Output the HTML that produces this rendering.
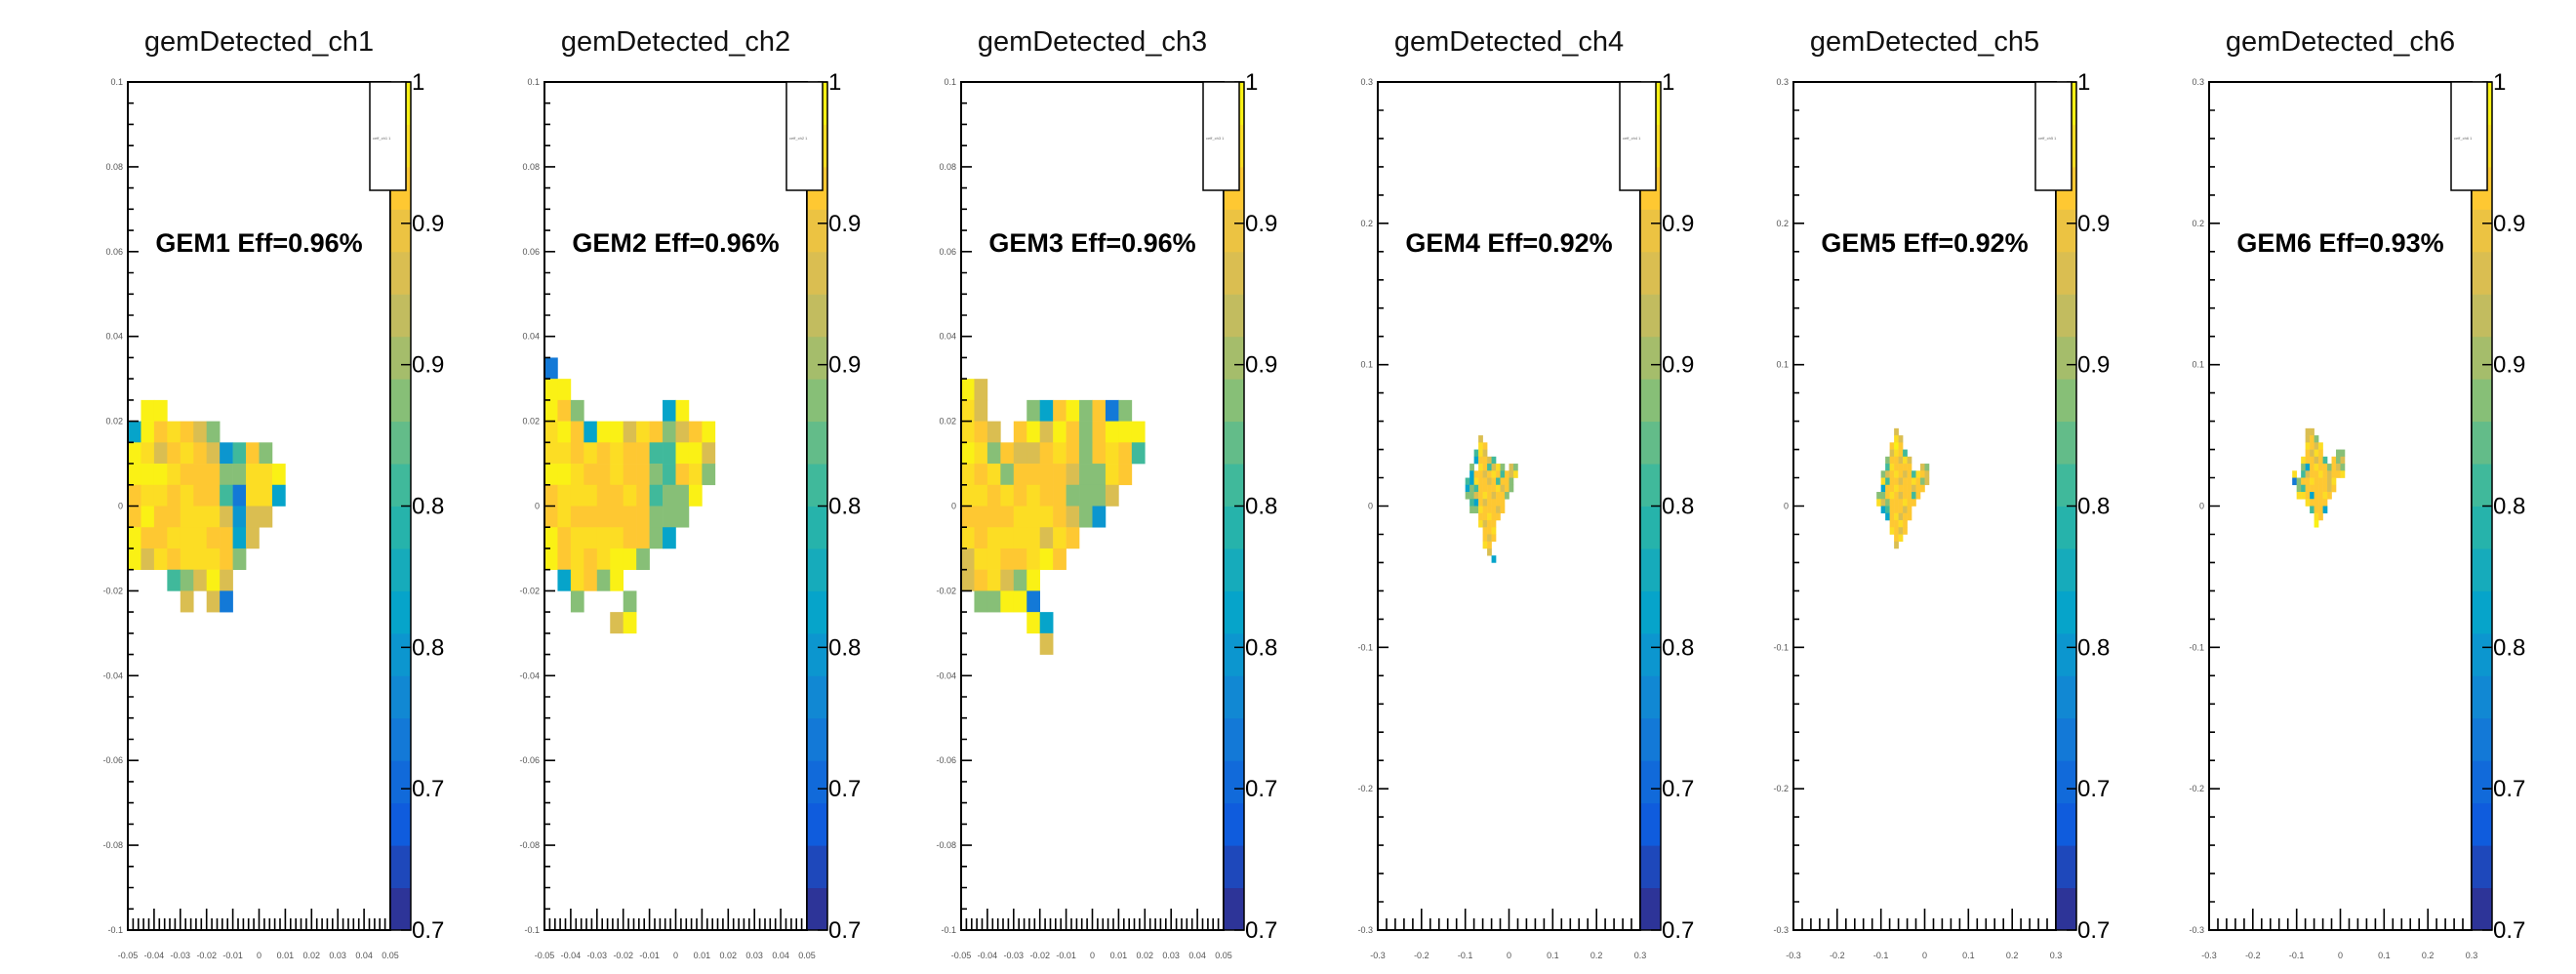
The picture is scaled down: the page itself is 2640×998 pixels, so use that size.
<!DOCTYPE html>
<html><head><meta charset="utf-8">
<style>
html,body{margin:0;padding:0;background:#fff;}
svg{display:block;font-family:"Liberation Sans",sans-serif;}
</style></head>
<body>
<svg id="chart" width="2640" height="998" viewBox="0 0 2640 998" xmlns="http://www.w3.org/2000/svg"></svg>
<script>
// ---- data ----
const panelTitles = ["gemDetected_ch1","gemDetected_ch2","gemDetected_ch3","gemDetected_ch4","gemDetected_ch5","gemDetected_ch6"];
const effLabels = ["GEM1 Eff=0.96%","GEM2 Eff=0.96%","GEM3 Eff=0.96%","GEM4 Eff=0.92%","GEM5 Eff=0.92%","GEM6 Eff=0.93%"];
const axisRange = [0.1,0.1,0.1,0.3,0.3,0.3];           // half-width of x/y axis range
const binX = [0.005,0.005,0.005,0.01,0.01,0.01];
const binY = [0.005,0.005,0.005,0.005,0.005,0.005];
const gridX0 = [-0.05,-0.05,-0.05,-0.11,-0.12,-0.12]; // x of first column
const gridY0 = [0.025,0.035,0.03,0.05,0.055,0.055];   // y of top edge of first row
const xRangeHalf = [0.05,0.05,0.05,0.3,0.3,0.3];
const codeValues = {Y:1.0,y:0.98,o:0.96,t:0.925,g:0.89,G:0.85,c:0.81,C:0.79,b:0.77,B:0.73};
const ch1Rows = [".YY","cYoyotg","YytoyotCGog","YYYyoooggyyY","oyyoyooGbyyc","oYooyyytCtt","Yooyyyooct","Ytyoyyyog","...GgtYt","....t.tb"];
const ch2Rows = ["b","YY","Yog......cY","yYocYYtyogtoY","yyoyoyooGGYYt","YYyooyoogGoyg","oyyyooyoGggY","oyooooooggg","Yoyyyyoogc","YoyoyYYg",".cyogY","..g...g",".....tY"];
const ch3Rows = ["Yt","yt...gcoYgobg","yot.oYtYogoYYY","YygottoyogoyoG","yoygooootggyo","yyoyoyoogggt","ooooyyyotgC","yoyyyytyo","tyyooyYo","toytgY",".ggYYb",".....Yc","......t"];
const ch4Rows = ["....t.........","....yo........","...Gyt........","...cootG......","..g.yoGtyg.tg.","..cootoyoGoty.",".GcyootoGoog..",".cgGooooytog..",".ggtoyotoog...","..Gcotoooo....","..ggyoooto....","....ooyoo.....","....ytoo......",".....ooy......",".....oto......",".....yo.......","......t.......",".......c......"];
const ch5Rows = [".....t........",".....yt.......","....oYo.......","....tyoG......","...gootyt.....","...Gyoooo..tg.","..gtoyotoGyot.","..yGootooyogt.","..cooyoootoo..",".ggoyotooGo...",".ytgoooyoo....","..cGoooto.....","...coytoo.....","....ooyo......","....yoto......",".....oy.......",".....t........"];
const ch6Rows = ["....tt........","....tog.......","....yoty......","....otyo...gg.","...yootoG.ogt.","...gcoyoogotg.",".y.Gtooyotooy.",".bgooyoooty...","..gGoooooto...","..yyocooyo....","....yoooo.....",".....Gooc.....","......yo......","......Y......."];
const allRows = [ch1Rows,ch2Rows,ch3Rows,ch4Rows,ch5Rows,ch6Rows];
const yTickLabelsSmall = ["0.1","0.08","0.06","0.04","0.02","0","-0.02","-0.04","-0.06","-0.08","-0.1"];
const yTickValuesSmall = [0.1,0.08,0.06,0.04,0.02,0,-0.02,-0.04,-0.06,-0.08,-0.1];
const xTickLabelsSmall = ["-0.05","-0.04","-0.03","-0.02","-0.01","0","0.01","0.02","0.03","0.04","0.05"];
const xTickValuesSmall = [-0.05,-0.04,-0.03,-0.02,-0.01,0,0.01,0.02,0.03,0.04,0.05];
const tickLabelsLarge = ["-0.3","-0.2","-0.1","0","0.1","0.2","0.3"];
const tickValuesLarge = [-0.3,-0.2,-0.1,0,0.1,0.2,0.3];
const zTickLabels = ["1","0.9","0.9","0.8","0.8","0.7","0.7"];
const zTickValues = [1.0,0.95,0.9,0.85,0.8,0.75,0.7];
const zMin = 0.7, zMax = 1.0, nLevels = 20;

// ---- layout ----
const frameLefts = [131,558,985,1412,1838,2264];
const frameW = 269, frameTop = 84, frameBot = 953, cbW = 21;
const NS = "http://www.w3.org/2000/svg";
const svg = document.getElementById('chart');
function el(tag, attrs, parent){const e=document.createElementNS(NS,tag);for(const k in attrs)e.setAttribute(k,attrs[k]);(parent||svg).appendChild(e);return e;}

const bird=[[0,0.2082,0.1664,0.5293],[0.125,0.0592,0.3599,0.8684],[0.25,0.0780,0.5041,0.8385],[0.375,0.0232,0.6419,0.7914],[0.5,0.1802,0.7178,0.6425],[0.625,0.5301,0.7492,0.4662],[0.75,0.8186,0.7328,0.3499],[0.875,0.9956,0.7862,0.1968],[1,0.9764,0.9832,0.0539]];
function birdColor(t){t=Math.max(0,Math.min(1,t));for(let i=0;i<bird.length-1;i++){const a=bird[i],b=bird[i+1];if(t<=b[0]){const f=(t-a[0])/(b[0]-a[0]);const c=[1,2,3].map(j=>Math.round(255*(a[j]+f*(b[j]-a[j]))));return `rgb(${c[0]},${c[1]},${c[2]})`;}}return 'rgb(249,251,14)';}
function levelColor(v){let lvl=Math.floor((v-zMin)/(zMax-zMin)*nLevels);lvl=Math.max(0,Math.min(nLevels-1,lvl));return birdColor((lvl+0.5)/nLevels);}

panelTitles.forEach((title,p)=>{
  const L=frameLefts[p], R=L+frameW, H=frameBot-frameTop;
  const yr=axisRange[p], xr=xRangeHalf[p];
  const g=el('g',{});
  
  
  const sx=v=>L+(v+xr)/(2*xr)*frameW;
  const sy=v=>frameTop+(yr-v)/(2*yr)*H;
  const t=el('text',{x:(L+R)/2,y:52,'font-size':29,'text-anchor':'middle',fill:'#111'},g);
  t.textContent=title;
  
  
  el('rect',{x:L,y:frameTop,width:frameW,height:H,fill:'#fff'},g);
  // heatmap cells
  const hm=el('g',{},g);
  
  
  allRows[p].forEach((row,ri)=>{
    for(let ci=0;ci<row.length;ci++){
      const ch=row[ci]; if(!(ch in codeValues)) continue;
      const x0=gridX0[p]+ci*binX[p], y0=gridY0[p]-ri*binY[p];
      const px=sx(x0), py=sy(y0);
      const c=el('rect',{x:px.toFixed(2),y:py.toFixed(2),width:(sx(x0+binX[p])-px+0.3).toFixed(2),height:(sy(y0-binY[p])-py+0.3).toFixed(2),fill:levelColor(codeValues[ch])},hm);
      
      
    }
  });
  // ticks
  const small = p<3;
  const yTV = small?yTickValuesSmall:tickValuesLarge, yTL = small?yTickLabelsSmall:tickLabelsLarge;
  const xTV = small?xTickValuesSmall:tickValuesLarge, xTL = small?xTickLabelsSmall:tickLabelsLarge;
  const yMinor = small?0.005:0.02, xMinor = small?0.002:0.02;
  let path='';
  for(let v=-yr;v<=yr+1e-9;v+=yMinor){const y=sy(v);path+=`M${L} ${y.toFixed(1)}h6`;}
  for(let v=-xr;v<=xr+1e-9;v+=xMinor){const x=sx(v);path+=`M${x.toFixed(1)} ${frameBot}v-12`;}
  yTV.forEach(v=>{path+=`M${L} ${sy(v).toFixed(1)}h11`;});
  xTV.forEach(v=>{path+=`M${sx(v).toFixed(1)} ${frameBot}v-22`;});
  const tk=el('path',{d:path,stroke:'#000','stroke-width':1.6,fill:'none'},g);
  
  
  yTV.forEach((v,i)=>{const tl=el('text',{x:L-5,y:sy(v)+3,'font-size':9,'text-anchor':'end',fill:'#555'},g);tl.textContent=yTL[i];
    
    });
  xTV.forEach((v,i)=>{const tl=el('text',{x:sx(v),y:982,'font-size':9,'text-anchor':'middle',fill:'#555'},g);tl.textContent=xTL[i];
    
    });
  const fr=el('rect',{x:L,y:frameTop,width:frameW,height:H,fill:'none',stroke:'#000','stroke-width':2},g);
  
  
  const et=el('text',{x:(L+R)/2,y:258,'font-size':27,'font-weight':'bold','text-anchor':'middle',fill:'#000'},g);
  et.textContent=effLabels[p];
  
  
  // color bar
  const cb=el('g',{},g);
  
  
  for(let k=0;k<nLevels;k++){
    const y1=frameBot-(k+1)/nLevels*H, y2=frameBot-k/nLevels*H;
    el('rect',{x:R,y:y1.toFixed(2),width:cbW,height:(y2-y1+0.5).toFixed(2),fill:birdColor((k+0.5)/nLevels)},cb);
  }
  el('rect',{x:R,y:frameTop,width:cbW,height:H,fill:'none',stroke:'#000','stroke-width':1.5},cb);
  zTickValues.forEach((v,i)=>{
    const y=frameBot-(v-zMin)/(zMax-zMin)*H;
    el('line',{x1:R+cbW-10,x2:R+cbW,y1:y,y2:y,stroke:'#000','stroke-width':1.5},cb);
    const zl=el('text',{x:R+cbW+1,y:y+8,'font-size':24,fill:'#000'},cb);zl.textContent=zTickLabels[i];
    
    
  });
  // stats box
  const sb=el('g',{},g);
  
  
  el('rect',{x:R-21,y:frameTop,width:37,height:111,fill:'#fff',stroke:'#000','stroke-width':1.5},sb);
  const st=el('text',{x:R-18,y:143,'font-size':4,fill:'#666'},sb);st.textContent='ceff_ch'+(p+1)+'   1';
});
</script>
</body></html>
